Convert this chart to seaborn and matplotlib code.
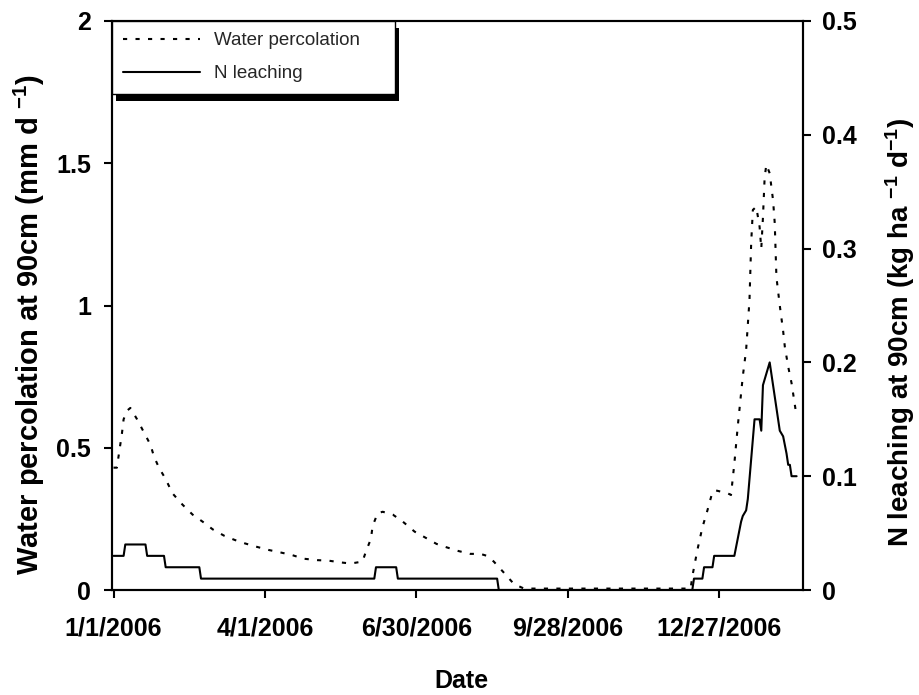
import matplotlib
matplotlib.use("Agg")
import matplotlib.pyplot as plt
from matplotlib.patches import Rectangle
from matplotlib.transforms import IdentityTransform
import numpy as np
import pandas as pd
import seaborn as sns

# ---- data -------------------------------------------------------------
start = "2006-01-01"

# water percolation at 90 cm (mm/day), days after start
perc_days = [0, 2, 3, 5, 6, 8, 10, 14, 18, 22, 24, 27, 31, 35, 41, 47, 53, 59,
             66, 72, 78, 85, 92, 100, 106, 113, 121, 128, 135, 141, 148, 150,
             153, 154, 157, 160, 166, 172, 179, 186, 192, 198, 205, 212, 218,
             222, 226, 232, 238, 244, 343, 344, 347, 350, 353, 356, 358, 365,
             367, 369, 371, 374, 376, 378, 379, 380, 382, 384, 385, 386, 387,
             388, 390, 392, 393, 394, 396, 398, 399, 401, 403, 406]
perc_mm = [0.43, 0.43, 0.47, 0.55, 0.60, 0.63, 0.64, 0.60, 0.555, 0.51, 0.47,
           0.43, 0.39, 0.34, 0.30, 0.265, 0.24, 0.213, 0.19, 0.176, 0.164,
           0.152, 0.141, 0.131, 0.123, 0.11, 0.105, 0.103, 0.097, 0.093, 0.10,
           0.135, 0.18, 0.225, 0.27, 0.275, 0.265, 0.24, 0.205, 0.182, 0.162,
           0.15, 0.137, 0.127, 0.127, 0.12, 0.10, 0.061, 0.021, 0.005, 0.005,
           0.047, 0.14, 0.22, 0.28, 0.345, 0.35, 0.34, 0.334, 0.445, 0.574,
           0.75, 0.844, 1.02, 1.22, 1.336, 1.347, 1.277, 1.20, 1.31, 1.45,
           1.495, 1.465, 1.37, 1.29, 1.10, 1.0, 0.91, 0.855, 0.785, 0.727, 0.61]

# N leaching at 90 cm (kg/ha/day), days after start
leach_days = [0, 6, 7, 19, 20, 30, 31, 51, 52, 155, 156, 168, 169, 228, 229,
              344, 345, 350, 351, 356, 357, 369, 373, 374, 376, 377, 381, 384,
              385, 386, 390, 393, 394, 396, 398, 400, 401, 402, 403, 406]
leach_kg = [0.03, 0.03, 0.04, 0.04, 0.03, 0.03, 0.02, 0.02, 0.01, 0.01, 0.02,
            0.02, 0.01, 0.01, 0.0, 0.0, 0.01, 0.01, 0.02, 0.02, 0.03, 0.03,
            0.06, 0.065, 0.07, 0.08, 0.15, 0.15, 0.14, 0.18, 0.20, 0.17, 0.16,
            0.14, 0.135, 0.12, 0.11, 0.11, 0.10, 0.10]

date_ticks = ["1/1/2006", "4/1/2006", "6/30/2006", "9/28/2006", "12/27/2006"]
left_ticks = [0, 0.5, 1, 1.5, 2]
left_tick_labels = ["0", "0.5", "1", "1.5", "2"]
right_ticks = [0, 0.1, 0.2, 0.3, 0.4, 0.5]
right_tick_labels = ["0", "0.1", "0.2", "0.3", "0.4", "0.5"]

# ---- style ------------------------------------------------------------
sns.set_theme(style="ticks")
plt.rcParams["font.family"] = ["Liberation Sans", "DejaVu Sans"]
plt.rcParams["mathtext.fontset"] = "custom"
plt.rcParams["mathtext.rm"] = "Liberation Sans:bold"
plt.rcParams["mathtext.default"] = "rm"

t0 = pd.Timestamp(start)
perc_dates = t0 + pd.to_timedelta(perc_days, unit="D")
leach_dates = t0 + pd.to_timedelta(leach_days, unit="D")
tick_dates = pd.to_datetime(date_ticks, format="%m/%d/%Y")

fig = plt.figure(figsize=(9.19, 6.95), dpi=100)
ax = fig.add_axes([112 / 919, 1 - 590 / 695, 691 / 919, 569 / 695])
ax2 = ax.twinx()

sns.lineplot(x=perc_dates, y=perc_mm, ax=ax, color="black", linewidth=1.5,
             linestyle=(0, (2, 4.0)))
sns.lineplot(x=leach_dates, y=leach_kg, ax=ax2, color="black", linewidth=1.5)

for a in (ax, ax2):
    if a.get_legend() is not None:
        a.get_legend().remove()
    for s in a.spines.values():
        s.set_linewidth(1.5)
        s.set_color("black")

ax.set_xlim(t0 + pd.Timedelta(days=-0.9), t0 + pd.Timedelta(days=409.8))
ax.set_xticks(tick_dates)
ax.set_xticklabels(date_ticks)
ax.set_ylim(0, 2)
ax.set_yticks(left_ticks)
ax.set_yticklabels(left_tick_labels)
ax2.set_ylim(0, 0.5)
ax2.set_yticks(right_ticks)
ax2.set_yticklabels(right_tick_labels)

tick_kw = dict(direction="out", length=6, width=1.5, color="black",
               labelsize=18, labelcolor="black")
ax.tick_params(axis="x", pad=13, **tick_kw)
ax.tick_params(axis="y", pad=9, left=True, right=False, **tick_kw)
ax2.tick_params(axis="y", pad=8, right=True, left=False, **tick_kw)
for lab in ax.get_xticklabels() + ax.get_yticklabels() + ax2.get_yticklabels():
    lab.set_fontweight("bold")

ax.set_xlabel("Date", fontsize=18, fontweight="bold", color="black")
ax.xaxis.label.set_verticalalignment("center")
ax.xaxis.set_label_coords(0.506, -0.16)
ax.set_ylabel("Water percolation at 90cm (mm d $^{-1}$)", fontsize=21,
              fontweight="bold", color="black")
ax.yaxis.label.set_verticalalignment("center")
ax.yaxis.set_label_coords(-0.119, 0.466)
ax2.set_ylabel("N leaching at 90cm (kg ha $^{-1}$ d$^{-1}$)", fontsize=20,
               fontweight="bold", color="black", rotation=90)
ax2.yaxis.label.set_verticalalignment("center")
ax2.yaxis.set_label_coords(1.141, 0.453)

ax.grid(False)
ax2.grid(False)

# legend in the top-left corner with a solid drop shadow
handles = [ax.get_lines()[0], ax2.get_lines()[0]]
leg = ax2.legend(handles, ["Water percolation", "N leaching"],
                 loc="upper left", bbox_to_anchor=(0, 1, 283 / 691, 0),
                 mode="expand", borderaxespad=0, fancybox=False,
                 edgecolor="black", framealpha=1, fontsize=13.5,
                 handlelength=4.1, handletextpad=0.75, labelspacing=0.85,
                 borderpad=0.6)
leg.get_frame().set_linewidth(1.0)
leg.set_zorder(10)

fig.canvas.draw()
bb = leg.get_frame().get_window_extent()
shadow = Rectangle((bb.x0 + 4, bb.y0 - 7), bb.width, bb.height,
                   transform=IdentityTransform(), facecolor="black",
                   edgecolor="none", zorder=9.9, clip_on=False)
ax2.add_artist(shadow)

fig.savefig("out.png", dpi=100)
